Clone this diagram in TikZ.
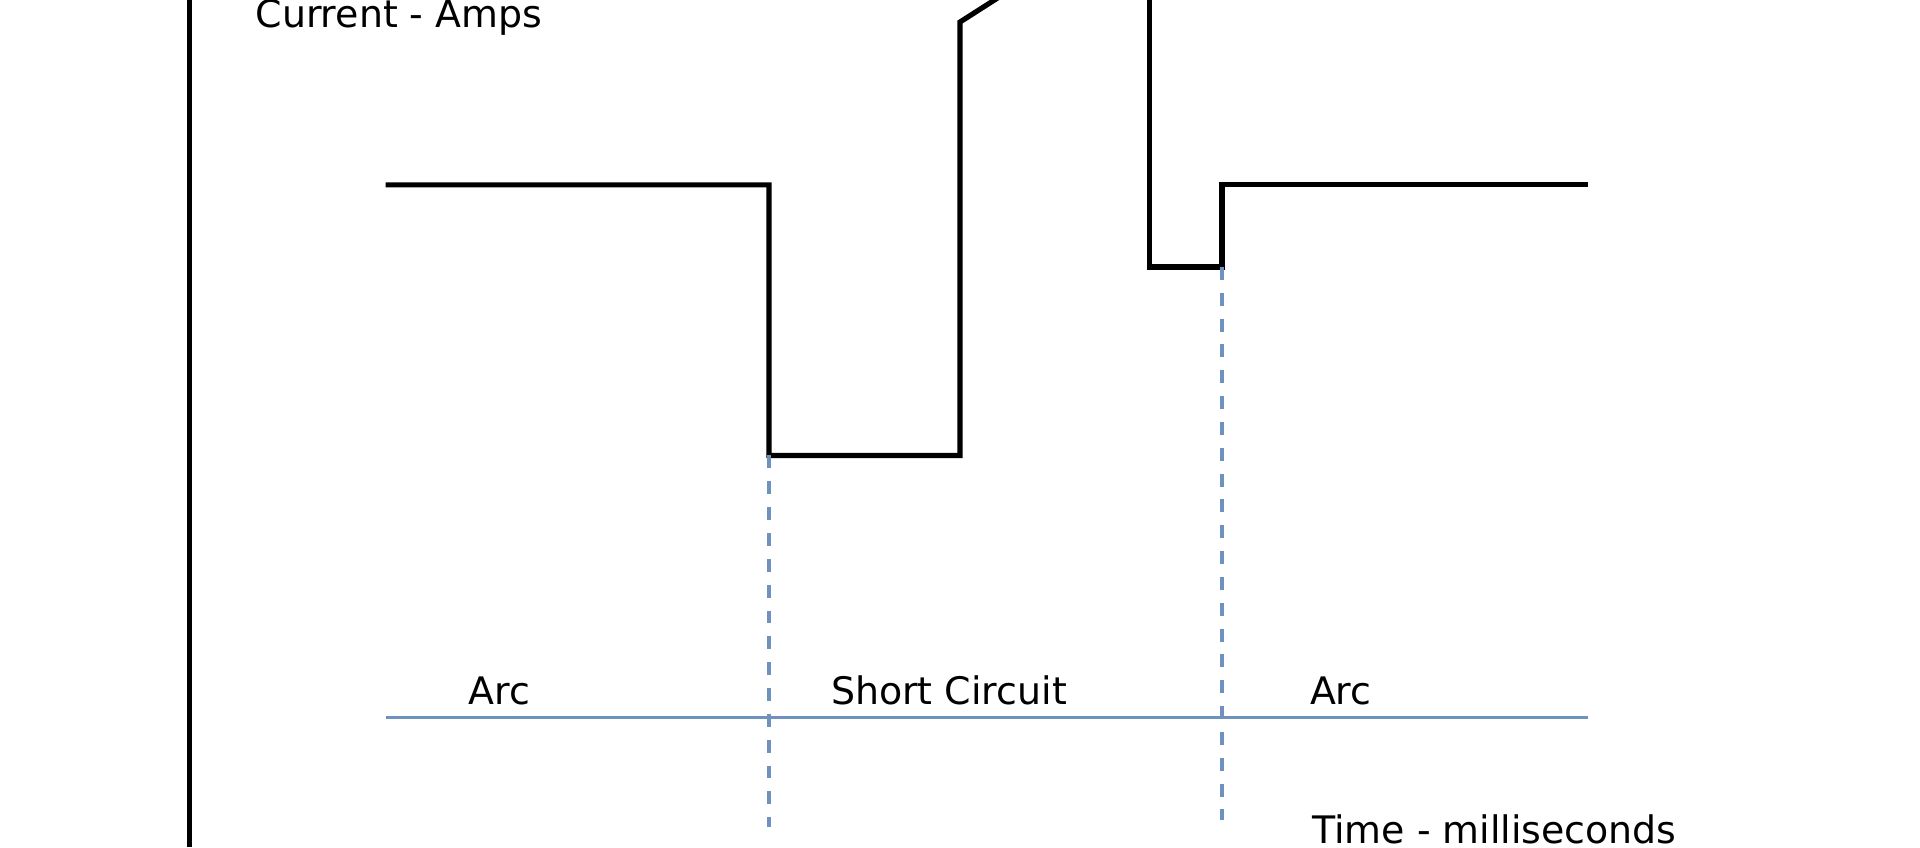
\documentclass[tikz,border=0pt]{standalone}
\usepackage{fontspec}
\setmainfont{DejaVu Sans}
\usepackage{tikz}
\definecolor{phaseblue}{RGB}{110,145,190}

\begin{document}
\begin{tikzpicture}[x=0.01cm,y=-0.01cm,
    wave/.style={line width=1.2pt, black},
    phase/.style={line width=0.8pt, phaseblue},
    label/.style={font=\fontsize{8.8}{10}\selectfont, inner sep=0pt}]
    \useasboundingbox (0,0) rectangle (1568,692);

    % Current axis
    \draw[wave] (155,0) -- (155,692);
    \node[label, anchor=west] (ylab) at (208,14) {Current - Amps};

    % Waveform points
    \coordinate (W1) at (315,151);
    \coordinate (W2) at (628,151);
    \coordinate (W3) at (628,372);
    \coordinate (W4) at (784,372);
    \coordinate (W5) at (784,18);
    \coordinate (W6) at (820,-5);
    \coordinate (W7) at (939,-5);
    \coordinate (W8) at (939,218);
    \coordinate (W9) at (998,218);
    \coordinate (W10) at (998,151);
    \coordinate (W11) at (1297,151);

    % Draw the current waveform
    \draw[wave] (W1) -- (W2) -- (W3) -- (W4) -- (W5) -- (W6);
    \draw[wave] (W7) -- (W8) -- (W9) -- (W10) -- (W11);

    % Phase boundaries
    \coordinate (S) at (628,675);
    \coordinate (E) at (998,670);
    \draw[phase, dashed] (W3) -- (S);
    \draw[phase, dashed] (W9) -- (E);

    % Time line and phases
    \coordinate (T1) at (315,586);
    \coordinate (T2) at (1297,586);
    \draw[phase] (T1) -- (T2);
    \node[label] (arc1) at (408,564) {Arc};
    \node[label] (short) at (775,564) {Short Circuit};
    \node[label] (arc2) at (1095,564) {Arc};
    \node[label, anchor=west] (xlab) at (1071,677) {Time - milliseconds};
\end{tikzpicture}
\end{document}
